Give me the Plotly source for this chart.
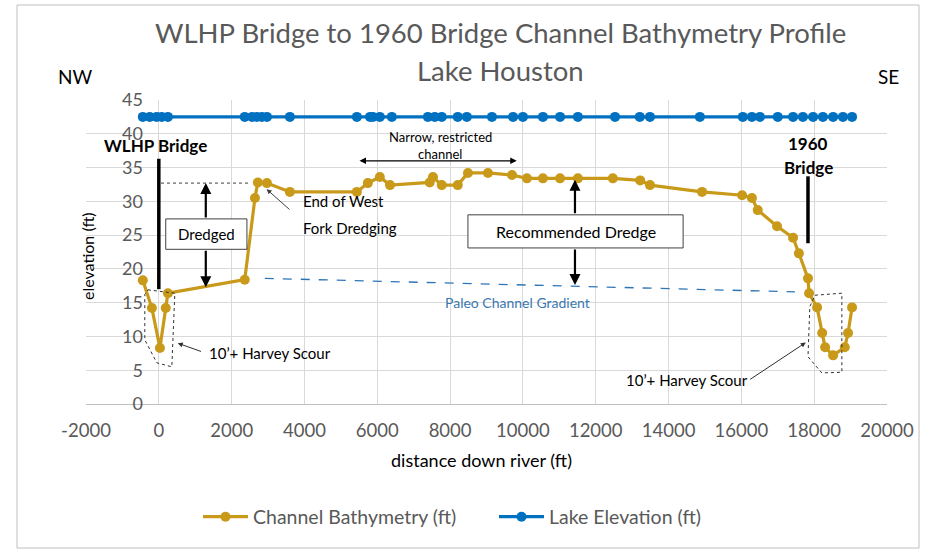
import plotly.graph_objects as go

# ---------------- data ----------------
bathy_distance = [-440, -190, 30, 190, 250, 2360, 2640, 2720, 2970, 3600,
                  5440, 5740, 6070, 6350, 7440, 7530, 7770, 8210, 8490, 9040,
                  9700, 10110, 10550, 11020, 11510, 12470, 13220, 13490, 14920, 16020,
                  16290, 16450, 16980, 17420, 17580, 17830, 17860, 18080, 18220, 18300,
                  18520, 18840, 18930, 19040]
bathy_elev = [18.3, 14.2, 8.3, 14.2, 16.4, 18.4, 30.5, 32.8, 32.7, 31.4,
              31.4, 32.7, 33.6, 32.4, 32.8, 33.6, 32.4, 32.4, 34.2, 34.2,
              33.9, 33.4, 33.4, 33.4, 33.4, 33.4, 33.1, 32.4, 31.4, 30.9,
              30.5, 28.7, 26.3, 24.6, 22.3, 18.6, 16.4, 14.3, 10.5, 8.4,
              7.2, 8.4, 10.5, 14.3]

lake_distance = [-440, -250, -60, 80, 250, 2360, 2560, 2690, 2830, 2970,
                 3600, 5440, 5800, 5880, 6070, 6400, 7390, 7580, 7770, 8210,
                 8460, 9150, 9730, 10000, 10550, 11020, 11510, 12530, 13210, 13490,
                 14860, 16040, 16290, 16510, 17000, 17420, 17690, 17970, 18240, 18520,
                 18790, 19040]
lake_elev = [42.5, 42.5, 42.5, 42.5, 42.5, 42.5, 42.5, 42.5, 42.5, 42.5,
             42.5, 42.5, 42.5, 42.5, 42.5, 42.5, 42.5, 42.5, 42.5, 42.5,
             42.5, 42.5, 42.5, 42.5, 42.5, 42.5, 42.5, 42.5, 42.5, 42.5,
             42.5, 42.5, 42.5, 42.5, 42.5, 42.5, 42.5, 42.5, 42.5, 42.5,
             42.5, 42.5]

x_ticks = [-2000, 0, 2000, 4000, 6000, 8000, 10000, 12000, 14000, 16000, 18000, 20000]
x_tick_labels = ["-2000", "0", "2000", "4000", "6000", "8000", "10000", "12000",
                 "14000", "16000", "18000", "20000"]
y_ticks = [0, 5, 10, 15, 20, 25, 30, 35, 40, 45]

paleo_x = [2910, 17470]
paleo_y = [18.6, 16.6]

GOLD = "#C99A1A"
BLUE = "#0070C0"
GRAY = "#595959"
FONT = "Lato"

W, H = 928, 554
L, R, T, B = 86, 887, 100, 404


def px_x(p):
    return (p - L) / (R - L)


def px_y(p):
    return (B - p) / (B - T)


fig = go.Figure()
fig.add_trace(go.Scatter(x=bathy_distance, y=bathy_elev, mode="lines+markers",
                         name="Channel Bathymetry (ft)",
                         line=dict(color=GOLD, width=3.2),
                         marker=dict(color=GOLD, size=10)))
fig.add_trace(go.Scatter(x=lake_distance, y=lake_elev, mode="lines+markers",
                         name="Lake Elevation (ft)",
                         line=dict(color=BLUE, width=3.2),
                         marker=dict(color=BLUE, size=10)))
fig.add_trace(go.Scatter(x=paleo_x, y=paleo_y, mode="lines", showlegend=False,
                         hoverinfo="skip",
                         line=dict(color="#2E75B6", width=1.3, dash="dash")))

shapes = []
annots = []

# chart frame
shapes.append(dict(type="rect", xref="paper", yref="paper",
                   x0=px_x(17), x1=px_x(919), y0=px_y(548), y1=px_y(5),
                   line=dict(color="#BFBFBF", width=1), layer="below"))

# WLHP bridge line
shapes.append(dict(type="line", x0=0, x1=0, y0=17.0, y1=36.3,
                   line=dict(color="black", width=3.5)))
# 1960 bridge line
shapes.append(dict(type="line", x0=17830, x1=17830, y0=23.8, y1=33.7,
                   line=dict(color="black", width=3.5)))
# dotted line at dredged top
shapes.append(dict(type="line", x0=60, x1=2500, y0=32.7, y1=32.7,
                   line=dict(color="#404040", width=1, dash="dot")))
# Dredged box
shapes.append(dict(type="rect", x0=190, x1=2420, y0=22.9, y1=27.4,
                   line=dict(color="#404040", width=1), fillcolor="white"))
# Recommended Dredge box
shapes.append(dict(type="rect", x0=8490, x1=14400, y0=23.1, y1=28.0,
                   line=dict(color="#404040", width=1), fillcolor="white"))
# scour outlines
shapes.append(dict(type="path",
                   path="M -300,16.9 L 440,16.4 L 357,5.5 L -55,6.1 L -385,9.5 L -385,16.2 Z",
                   line=dict(color="#303030", width=1, dash="dot")))
shapes.append(dict(type="path",
                   path="M 18020,16.1 L 18760,16.4 L 18760,4.7 L 18210,4.6 L 17830,7.0 L 17880,14.4 Z",
                   line=dict(color="#303030", width=1, dash="dot")))


def arrow(x, y, ax, ay, width=2.2, color="black", head=2, size=1.0, side="end"):
    annots.append(dict(x=x, y=y, ax=ax, ay=ay, xref="x", yref="y", axref="x", ayref="y",
                       text="", showarrow=True, arrowhead=head, arrowsize=size,
                       arrowwidth=width, arrowcolor=color, arrowside=side))


# Dredged arrows
arrow(1290, 32.7, 1290, 27.4)
arrow(1290, 17.3, 1290, 22.9)
# Recommended arrows
arrow(11430, 33.2, 11430, 28.0)
arrow(11430, 17.6, 11430, 23.1)
# narrow channel double arrow
arrow(9830, 36.0, 5470, 36.0, width=1.3, side="end+start", head=2)
# End of West Fork arrow
arrow(2960, 31.8, 3630, 28.6, width=1, color="#404040", head=2)
# Harvey scour arrows
arrow(520, 9.0, 1200, 7.7, width=1, color="#303030", head=2)
arrow(17770, 9.1, 16200, 3.5, width=1, color="#303030", head=2)


def text(x, y, s, size=14, color="black", bold=False, xanchor="center", xref="paper", yref="paper"):
    if bold:
        s = "<b>" + s + "</b>"
    annots.append(dict(x=x, y=y, xref=xref, yref=yref, text=s, showarrow=False,
                       xanchor=xanchor, yanchor="middle",
                       font=dict(family=FONT, size=size, color=color)))


text(px_x(500), px_y(33), "WLHP Bridge to 1960 Bridge Channel Bathymetry Profile", size=27.5, color=GRAY)
text(px_x(500), px_y(70), "Lake Houston", size=27.5, color=GRAY)
text(px_x(75), px_y(76), "NW", size=19)
text(px_x(888), px_y(76), "SE", size=19)
text(px_x(155), px_y(145), "WLHP Bridge", size=17, bold=True)
text(px_x(808), px_y(143), "1960", size=17, bold=True)
text(px_x(808), px_y(167), "Bridge", size=17, bold=True)
text(px_x(206), px_y(234), "Dredged", size=15)
text(px_x(576), px_y(231), "Recommended Dredge", size=16)
text(px_x(301), px_y(201), "End of West", size=15, xanchor="left")
text(px_x(301), px_y(228), "Fork Dredging", size=15, xanchor="left")
text(px_x(440), px_y(137), "Narrow, restricted", size=13)
text(px_x(440), px_y(154), "channel", size=13)
text(px_x(517), px_y(302), "Paleo Channel Gradient", size=14, color="#3A78B0")
text(px_x(207), px_y(353), "10’+ Harvey Scour", size=15, xanchor="left")
text(px_x(750), px_y(380), "10’+ Harvey Scour", size=15, xanchor="right")
# y axis title
annots.append(dict(x=px_x(88), y=px_y(256), xref="paper", yref="paper", text="elevation (ft)",
                   showarrow=False, textangle=-90, font=dict(family=FONT, size=16, color="black"),
                   xanchor="center", yanchor="middle"))
# x axis title
annots.append(dict(x=px_x(481), y=px_y(460), xref="paper", yref="paper", text="distance down river (ft)",
                   showarrow=False, font=dict(family=FONT, size=18, color="black"),
                   xanchor="center", yanchor="middle"))

fig.update_layout(
    width=W, height=H,
    margin=dict(l=L, r=W - R, t=T, b=H - B, autoexpand=False),
    paper_bgcolor="white", plot_bgcolor="white",
    font=dict(family=FONT, color=GRAY),
    shapes=shapes, annotations=annots,
    showlegend=True,
    legend=dict(orientation="h", x=px_x(198), y=px_y(517), xanchor="left", yanchor="middle",
                font=dict(family=FONT, size=19.5, color=GRAY), itemwidth=45,
                entrywidth=236, entrywidthmode="pixels",
                bgcolor="rgba(0,0,0,0)"),
    xaxis=dict(range=[-2000, 20000], tickvals=x_ticks, ticktext=x_tick_labels,
               showgrid=True, gridcolor="#D9D9D9", automargin=False,
               gridwidth=1, zeroline=False, showline=True, linecolor="#BFBFBF",
               tickfont=dict(family=FONT, size=18.5, color=GRAY), ticks="",
               ticklabelstandoff=10),
    yaxis=dict(range=[0, 45], tickvals=y_ticks, showgrid=True, gridcolor="#D9D9D9", gridwidth=1,
               zeroline=False, showline=False, anchor="free", position=px_x(143), automargin=False,
               tickfont=dict(family=FONT, size=18, color=GRAY), ticks=""),
)

fig.write_html("out.html", config={"displayModeBar": False},
               post_script="document.body.style.margin='0';document.body.style.overflow='hidden';")
